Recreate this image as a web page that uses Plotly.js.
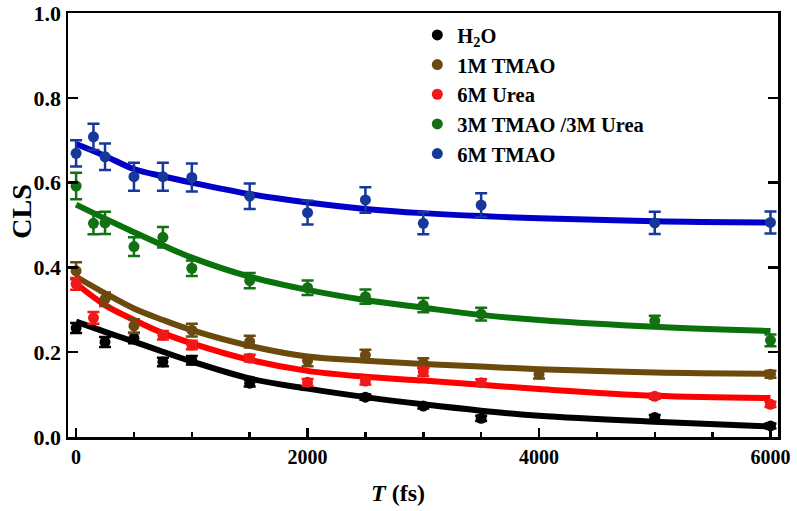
<!DOCTYPE html>
<html>
<head>
<meta charset="utf-8">
<script src="https://cdn.plot.ly/plotly-3.0.1.min.js"></script>
<style>html,body{margin:0;padding:0;background:#fff;}#chart{width:797px;height:511px;}</style>
</head>
<body>
<div id="chart"></div>
<script>
// ---- data ----
const seriesNames = ['H<sub>2</sub>O', '1M TMAO', '6M Urea', '3M TMAO /3M Urea', '6M TMAO'];

// measured points (T in fs, CLS)
const h2oT   = [0, 250, 500, 750, 1000, 1500, 2500, 3000, 3500, 5000, 6000];
const h2oCLS = [0.257, 0.224, 0.233, 0.177, 0.181, 0.127, 0.094, 0.073, 0.044, 0.046, 0.026];
const h2oErr = [0.012, 0.012, 0.012, 0.010, 0.010, 0.008, 0.006, 0.006, 0.006, 0.006, 0.006];

const tmao1T   = [0, 250, 500, 1000, 1500, 2000, 2500, 3000, 4000, 6000];
const tmao1CLS = [0.392, 0.325, 0.262, 0.252, 0.225, 0.180, 0.193, 0.174, 0.148, 0.148];
const tmao1Err = [0.020, 0.016, 0.016, 0.015, 0.014, 0.013, 0.013, 0.012, 0.010, 0.008];

const ureaT   = [0, 150, 750, 1000, 1500, 2000, 2500, 3000, 3500, 5000, 6000];
const ureaCLS = [0.361, 0.281, 0.240, 0.217, 0.186, 0.129, 0.132, 0.154, 0.128, 0.096, 0.077];
const ureaErr = [0.014, 0.014, 0.010, 0.010, 0.008, 0.008, 0.008, 0.010, 0.008, 0.006, 0.006];

const mixT   = [0, 150, 250, 500, 750, 1000, 1500, 2000, 2500, 3000, 3500, 5000, 6000];
const mixCLS = [0.592, 0.504, 0.505, 0.449, 0.471, 0.398, 0.369, 0.352, 0.331, 0.311, 0.290, 0.274, 0.228];
const mixErr = [0.031, 0.026, 0.026, 0.022, 0.024, 0.018, 0.018, 0.017, 0.017, 0.017, 0.015, 0.012, 0.014];

const tmao6T   = [0, 150, 250, 500, 750, 1000, 1500, 2000, 2500, 3000, 3500, 5000, 6000];
const tmao6CLS = [0.669, 0.708, 0.661, 0.614, 0.614, 0.612, 0.568, 0.529, 0.559, 0.504, 0.547, 0.505, 0.506];
const tmao6Err = [0.031, 0.031, 0.031, 0.033, 0.033, 0.033, 0.030, 0.028, 0.030, 0.026, 0.028, 0.026, 0.026];

// fitted curves
const fitT      = [0, 250, 500, 750, 1000, 1500, 2000, 2500, 3000, 3500, 4000, 5000, 6000];
const h2oFit    = [0.272, 0.248, 0.225, 0.201, 0.178, 0.138, 0.114, 0.094, 0.077, 0.062, 0.050, 0.036, 0.025];
const tmao1Fit  = [0.378, 0.339, 0.303, 0.276, 0.252, 0.215, 0.190, 0.180, 0.172, 0.166, 0.160, 0.152, 0.149];
const ureaFit   = [0.362, 0.311, 0.276, 0.245, 0.221, 0.182, 0.156, 0.142, 0.133, 0.123, 0.113, 0.097, 0.092];
const mixFit    = [0.548, 0.515, 0.483, 0.452, 0.423, 0.378, 0.347, 0.323, 0.305, 0.288, 0.276, 0.260, 0.250];
const tmao6Fit  = [0.691, 0.663, 0.632, 0.615, 0.600, 0.573, 0.553, 0.538, 0.528, 0.521, 0.516, 0.509, 0.506];

const xTickVals = [0, 2000, 4000, 6000];
const xTickText = ['0', '2000', '4000', '6000'];

// ---- styling ----
const markerColors = ['#000000', '#6a4a10', '#f01818', '#137013', '#16389a'];
const lineColors   = ['#000000', '#6b4a0c', '#ff0000', '#0a720a', '#0000c8'];
const FONT = 'Liberation Serif, Times New Roman, serif';

const pts = [
  [h2oT, h2oCLS, h2oErr],
  [tmao1T, tmao1CLS, tmao1Err],
  [ureaT, ureaCLS, ureaErr],
  [mixT, mixCLS, mixErr],
  [tmao6T, tmao6CLS, tmao6Err]
];
const fits = [h2oFit, tmao1Fit, ureaFit, mixFit, tmao6Fit];

const traces = [];
// curves first (drawn below markers)
fits.forEach((f, i) => {
  traces.push({
    x: fitT, y: f, mode: 'lines', type: 'scatter', showlegend: false, hoverinfo: 'skip',
    line: {color: lineColors[i], width: 6, shape: 'spline', smoothing: 1}
  });
});
pts.forEach((p, i) => {
  traces.push({
    x: p[0], y: p[1], mode: 'markers', type: 'scatter', showlegend: false,
    marker: {color: markerColors[i], size: 11},
    error_y: {type: 'data', array: p[2], visible: true, color: markerColors[i], thickness: 2.5, width: 6}
  });
});
// legend entries
seriesNames.forEach((n, i) => {
  traces.push({
    x: [null], y: [null], mode: 'markers', type: 'scatter', name: n,
    marker: {color: markerColors[i], size: 11}
  });
});

const layout = {
  width: 797, height: 511,
  margin: {l: 68, r: 19, t: 13, b: 74},
  paper_bgcolor: '#ffffff', plot_bgcolor: '#ffffff',
  font: {family: FONT, color: '#000'},
  showlegend: true,
  legend: {
    x: 0.492, y: 0.995, xanchor: 'left', yanchor: 'top',
    bgcolor: 'rgba(0,0,0,0)', borderwidth: 0,
    font: {family: FONT, size: 20.5, color: '#000', weight: 'bold'},
    tracegroupgap: 0, itemsizing: 'trace'
  },
  xaxis: {
    range: [-70, 6065], tickvals: xTickVals, ticktext: xTickText,
    ticks: 'inside', ticklen: 9, tickwidth: 2.5, tickcolor: '#000',
    minor: {dtick: 500, tick0: 0, ticks: 'inside', ticklen: 5, tickwidth: 2.5, tickcolor: '#000'},
    showline: true, linewidth: 2.5, linecolor: '#000', mirror: true,
    showgrid: false, zeroline: false,
    tickfont: {family: FONT, size: 20, color: '#000', weight: 'bold'}
  },
  yaxis: {
    range: [0, 1], dtick: 0.2, tick0: 0, tickformat: '.1f',
    ticks: 'inside', ticklen: 10, tickwidth: 2.5, tickcolor: '#000',
    showline: true, linewidth: 2.5, linecolor: '#000', mirror: 'ticks',
    showgrid: false, zeroline: false,
    tickfont: {family: FONT, size: 22, color: '#000', weight: 'bold'}
  },
  annotations: [
    {text: '<i>T</i> (fs)', xref: 'paper', yref: 'paper', x: 0.465, y: -0.132,
     xanchor: 'center', yanchor: 'middle', showarrow: false,
     font: {family: FONT, size: 24, color: '#000', weight: 'bold'}},
    {text: 'CLS', xref: 'paper', yref: 'paper', x: -0.065, y: 0.531, textangle: -90,
     xanchor: 'center', yanchor: 'middle', showarrow: false,
     font: {family: FONT, size: 28, color: '#000', weight: 'bold'}}
  ]
};

Plotly.newPlot('chart', traces, layout, {displayModeBar: false, staticPlot: true});
</script>
</body>
</html>
